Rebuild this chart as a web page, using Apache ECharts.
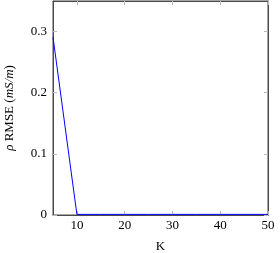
<!DOCTYPE html>
<html><head><meta charset="utf-8">
<script src="https://cdn.jsdelivr.net/npm/echarts@6/dist/echarts.min.js"></script>
<style>html,body{margin:0;padding:0;background:#fff}#c{width:280px;height:253px}</style>
</head><body><div id="c"></div>
<script>
const kValues = [5, 10, 15, 20, 25, 30, 35, 40, 45, 50];
const rmseValues = [0.291, 0.001, 0.001, 0.001, 0.001, 0.001, 0.001, 0.001, 0.001, 0.001];
const xTicks = [10, 20, 30, 40, 50];
const yTicks = [0, 0.1, 0.2, 0.3];

const font = 'Liberation Serif';
const frame = {show: true, onZero: false, lineStyle: {color: '#4a4a4a', width: 1}};
const tick = {inside: true, length: 4, lineStyle: {color: '#bbb', width: 1}};
const chart = echarts.init(document.getElementById('c'), null, {renderer: 'canvas'});
chart.setOption({
  animation: false,
  grid: {left: 53, right: 12, top: 1, bottom: 38, containLabel: false, outerBoundsMode: 'none',
    show: true, borderColor: '#4a4a4a', borderWidth: 1, backgroundColor: 'transparent'},
  xAxis: [{
    type: 'value', min: 5, max: 50, position: 'bottom',
    name: 'K', nameLocation: 'middle', nameGap: 25,
    nameTextStyle: {fontFamily: font, fontSize: 13, color: '#000'},
    axisLine: frame,
    axisTick: Object.assign({customValues: xTicks}, tick),
    axisLabel: {customValues: xTicks, fontFamily: font, fontSize: 13, color: '#000', margin: 4},
    splitLine: {show: false}
  }, {
    type: 'value', min: 5, max: 50, position: 'top',
    axisLine: frame,
    axisTick: Object.assign({customValues: xTicks}, tick),
    axisLabel: {show: false}, splitLine: {show: false}
  }],
  yAxis: [{
    type: 'value', min: 0, max: 0.35, position: 'left',
    name: '{i|ρ} RMSE ({i|mS/m})', nameLocation: 'middle', nameGap: 37,
    nameTextStyle: {fontFamily: font, fontSize: 13, color: '#000',
      rich: {i: {fontStyle: 'italic', fontFamily: font, fontSize: 13, color: '#000'}}},
    axisLine: frame,
    axisTick: Object.assign({customValues: yTicks}, tick),
    axisLabel: {customValues: yTicks, fontFamily: font, fontSize: 13, color: '#000', margin: 6},
    splitLine: {show: false}
  }, {
    type: 'value', min: 0, max: 0.35, position: 'right',
    axisLine: frame,
    axisTick: Object.assign({customValues: yTicks}, tick),
    axisLabel: {show: false}, splitLine: {show: false}
  }],
  series: [{
    type: 'line', xAxisIndex: 0, yAxisIndex: 0,
    data: kValues.map((k, i) => [k, rmseValues[i]]),
    showSymbol: false, lineStyle: {color: '#0000ff', width: 1},
    itemStyle: {color: '#0000ff'}
  }]
});
</script></body></html>
